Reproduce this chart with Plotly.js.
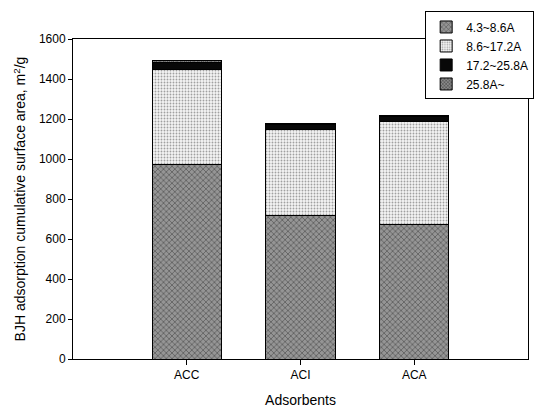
<!DOCTYPE html>
<html>
<head>
<meta charset="utf-8">
<script src="https://cdn.plot.ly/plotly-3.0.1.min.js"></script>
<style>html,body{margin:0;padding:0;background:#fff;}</style>
</head>
<body>
<div id="chart" style="width:546px;height:418px;"></div>
<script>
var categories = ["ACC", "ACI", "ACA"];
var seriesNames = ["4.3~8.6A", "8.6~17.2A", "17.2~25.8A", "25.8A~"];
var s4to8 = [975, 720, 675];
var s8to17 = [475, 430, 515];
var s17to25 = [35, 25, 25];
var s25up = [10, 5, 5];
var yTicks = [0, 200, 400, 600, 800, 1000, 1200, 1400, 1600];

var styles = [
  {color: "#8a8a8a", pattern: {shape: "x", bgcolor: "#959595", fgcolor: "#4f4f4f", size: 4, solidity: 0.3}},
  {color: "#eeeeee", pattern: {shape: ".", bgcolor: "#f4f4f4", fgcolor: "#a0a0a0", size: 3, solidity: 0.3}},
  {color: "#080808"},
  {color: "#7a7a7a", pattern: {shape: "x", bgcolor: "#8a8a8a", fgcolor: "#3a3a3a", size: 3, solidity: 0.35}}
];
var values = [s4to8, s8to17, s17to25, s25up];

var traces = values.map(function(v, i) {
  var m = {color: styles[i].color, line: {color: "#000", width: 1}};
  if (styles[i].pattern) m.pattern = styles[i].pattern;
  return {
    type: "bar",
    name: seriesNames[i],
    x: [0, 1, 2],
    y: v,
    width: 0.61,
    marker: m,
    hoverinfo: "skip"
  };
});

var layout = {
  width: 546, height: 418,
  margin: {l: 73, r: 13, t: 33, b: 59},
  paper_bgcolor: "#fff", plot_bgcolor: "#fff",
  barmode: "stack",
  font: {family: "Liberation Sans, Arial, sans-serif", color: "#000", size: 12},
  xaxis: {
    range: [-1, 3],
    tickvals: [0, 1, 2],
    ticktext: categories,
    ticks: "outside", ticklen: 5, tickcolor: "#000",
    showline: true, linecolor: "#000", linewidth: 1, mirror: true,
    showgrid: false, zeroline: false,
    tickfont: {size: 12},
    title: {text: "Adsorbents", font: {size: 14}, standoff: 13}
  },
  yaxis: {
    range: [0, 1600],
    tickvals: yTicks,
    ticks: "outside", ticklen: 4, tickcolor: "#000",
    showline: true, linecolor: "#000", linewidth: 1, mirror: true,
    showgrid: false, zeroline: false,
    tickfont: {size: 12},
    title: {text: "BJH adsorption cumulative surface area, m<sup>2</sup>/g", font: {size: 14}, standoff: 9}
  },
  legend: {
    x: 0.774, y: 1.086, xanchor: "left", yanchor: "top",
    traceorder: "normal",
    bgcolor: "#fff", bordercolor: "#000", borderwidth: 1,
    font: {size: 12},
    tracegroupgap: 0,
    itemwidth: 30
  },
  showlegend: true
};

Plotly.newPlot("chart", traces, layout, {displayModeBar: false, staticPlot: true});
</script>
</body>
</html>
